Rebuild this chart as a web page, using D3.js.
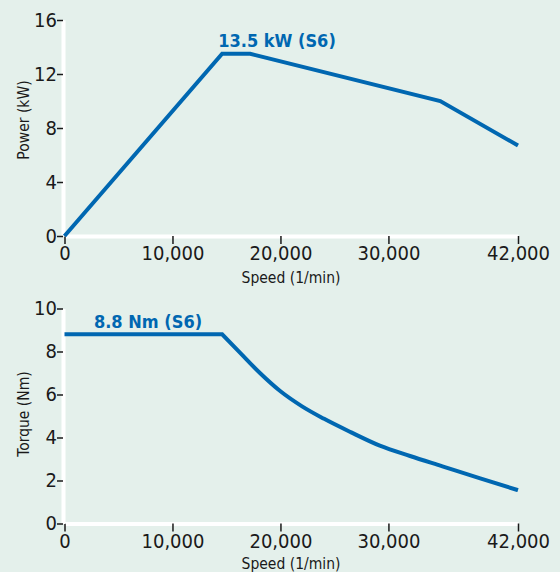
<!DOCTYPE html>
<html>
<head>
<meta charset="utf-8">
<script src="https://cdn.jsdelivr.net/npm/d3@7"></script>
<style>
	body { margin: 0; background: #e4f0eb; }
	svg { display: block; }
	.tick text { font-family: "DejaVu Sans Condensed", "DejaVu Sans", sans-serif; font-size: 20px; fill: #1a1a1a; }
	.axisTitle { font-family: "DejaVu Sans Condensed", "DejaVu Sans", sans-serif; font-size: 15.5px; fill: #1a1a1a; }
	.note { font-family: "DejaVu Sans Condensed", "DejaVu Sans", sans-serif; font-weight: bold; font-size: 18px; fill: #0067b1; }
</style>
</head>
<body>
<div id="graph"></div>
<script>
// speed in 1/min
var speedTicks = [0, 10000, 20000, 30000, 42000];
var speedLabels = ["0", "10,000", "20,000", "30,000", "42,000"];

// power curve (kW)
var powerSpeed = [0, 14600, 17200, 34800, 42000];
var powerValue = [0, 13.5, 13.5, 10.0, 6.7];
var powerTicks = [0, 4, 8, 12, 16];

// torque curve (Nm): constant part, then falling part
var torqueSpeed = [0, 14600, 16250, 18100, 20000, 22000, 24000, 26500, 29200, 32000, 35000, 38500, 42000];
var torqueValue = [8.8, 8.8, 7.95, 7.0, 6.15, 5.45, 4.88, 4.25, 3.62, 3.14, 2.66, 2.1, 1.55];
var torqueTicks = [0, 2, 4, 6, 8, 10];

var w = 560, h = 572;
var blue = "#0067b1";

var svg = d3.select("#graph")
	.append("svg")
	.attr("width", w)
	.attr("height", h);

svg.append("rect")
	.attr("width", w)
	.attr("height", h)
	.attr("fill", "#e4f0eb");

var xScale = d3.scaleLinear()
	.domain([0, 42000])
	.range([64.5, 518]);

function drawPanel(opt) {
	var g = svg.append("g");
	var yScale = d3.scaleLinear()
		.domain([0, opt.yMax])
		.range([opt.bottom, opt.top]);

	// x axis
	var xAxis = g.append("g")
		.attr("transform", "translate(0," + opt.bottom + ")")
		.call(d3.axisBottom(xScale)
			.tickValues(speedTicks)
			.tickFormat(function (d, i) { return speedLabels[i]; })
			.tickSize(8)
			.tickSizeOuter(0)
			.tickPadding(2));
	xAxis.select(".domain").attr("stroke", "#fff").attr("stroke-width", 4);
	xAxis.selectAll(".tick line").attr("stroke", "#1a1a1a").attr("stroke-width", 1.5);

	// y axis
	var yAxis = g.append("g")
		.attr("transform", "translate(63,0)")
		.call(d3.axisLeft(yScale)
			.tickValues(opt.yTicks)
			.tickSize(6)
			.tickSizeOuter(0)
			.tickPadding(0));
	yAxis.select(".domain").attr("stroke", "#fff").attr("stroke-width", 4);
	yAxis.selectAll(".tick line").attr("stroke", "#1a1a1a").attr("stroke-width", 1.5);

	g.append("text")
		.attr("class", "axisTitle")
		.attr("x", 291)
		.attr("y", opt.bottom + opt.titleGap)
		.attr("text-anchor", "middle")
		.text("Speed (1/min)");

	g.append("text")
		.attr("class", "axisTitle")
		.attr("transform", "translate(29," + opt.yTitle + ") rotate(-90)")
		.attr("text-anchor", "middle")
		.text(opt.yLabel);

	var pts = opt.xs.map(function (d, i) { return [d, opt.ys[i]]; });
	var lin = d3.line()
		.x(function (d) { return xScale(d[0]); })
		.y(function (d) { return yScale(d[1]); });

	var d;
	if (opt.smoothFrom != null) {
		// straight up to the corner, smooth after it
		var head = lin(pts.slice(0, opt.smoothFrom + 1));
		var tail = lin.curve(d3.curveMonotoneX)(pts.slice(opt.smoothFrom));
		d = head + "L" + tail.slice(1);
	} else {
		d = lin(pts);
	}

	g.append("path")
		.attr("d", d)
		.attr("fill", "none")
		.attr("stroke", blue)
		.attr("stroke-width", 4)
		.attr("stroke-linejoin", "miter");

	g.append("text")
		.attr("class", "note")
		.attr("x", opt.noteX)
		.attr("y", opt.noteY)
		.attr("text-anchor", "middle")
		.text(opt.note);
}

drawPanel({
	yMax: 16, top: 20, bottom: 236, yTicks: powerTicks,
	xs: powerSpeed, ys: powerValue,
	yLabel: "Power (kW)", yTitle: 120, titleGap: 47,
	note: "13.5 kW (S6)", noteX: 277, noteY: 47
});

drawPanel({
	yMax: 10, top: 308.5, bottom: 523.5, yTicks: torqueTicks,
	xs: torqueSpeed, ys: torqueValue, smoothFrom: 1,
	yLabel: "Torque (Nm)", yTitle: 414, titleGap: 45,
	note: "8.8 Nm (S6)", noteX: 148, noteY: 328
});
</script>
</body>
</html>
